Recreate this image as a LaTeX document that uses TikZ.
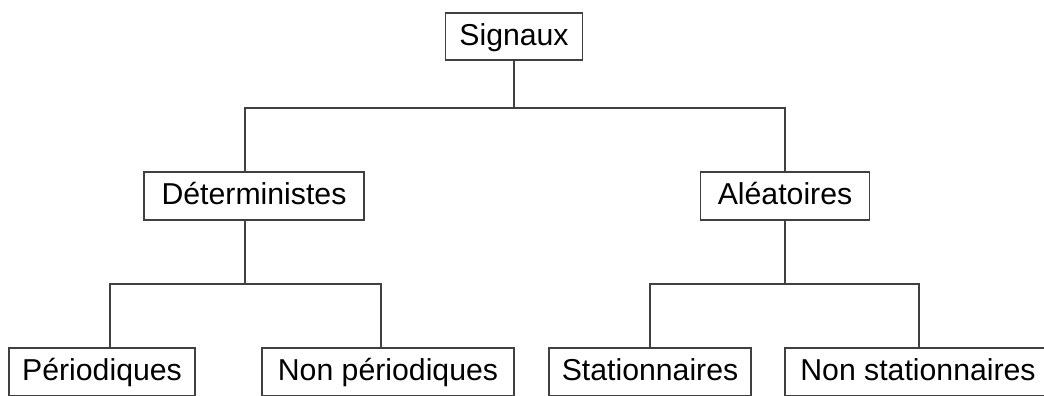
\documentclass[tikz,border=0pt]{standalone}
\usepackage{fontspec}
\setmainfont{Liberation Sans}
\usepackage{tikz}
\usetikzlibrary{calc}

\tikzset{
    sigbox/.style={draw=black!75, line width=0.9pt, inner sep=0pt,
        minimum height=1.2cm, text height=15.5pt, text depth=3pt,
        font=\fontsize{21.5}{25}\selectfont},
    link/.style={draw=black!75, line width=0.9pt}
}

\begin{document}
\begin{tikzpicture}[x=0.025cm, y=-0.025cm]
    \useasboundingbox (0,0) rectangle (1044,395);

    % Root
    \node[sigbox, minimum width=3.425cm, minimum height=1.175cm] (sig) at (514,36.5) {Signaux};

    % First level
    \node[sigbox, minimum width=5.5cm] (det) at (254,196) {Déterministes};
    \node[sigbox, minimum width=4.225cm] (ale) at (785,196) {Aléatoires};

    % Second level
    \node[sigbox, minimum width=4.65cm] (per) at (102,372) {Périodiques};
    \node[sigbox, minimum width=6.3cm] (nper) at (388,372) {Non périodiques};
    \node[sigbox, minimum width=5.05cm] (sta) at (650,372) {Stationnaires};
    \node[sigbox, minimum width=6.65cm] (nsta) at (918,372) {Non stationnaires};

    % Junctions
    \coordinate (jtop) at (514,108);
    \coordinate (jdet) at (245,284);
    \coordinate (jale) at (785,284);

    % Branches from the root
    \draw[link] (sig.south) -- (jtop);
    \draw[link] ($(det.north)+(-9,0)$) |- (jtop) -| (ale.north);

    % Deterministic branch
    \draw[link] ($(det.south)+(-9,0)$) -- (jdet);
    \draw[link] ($(per.north)+(8,0)$) |- (jdet) -| ($(nper.north)+(-7,0)$);

    % Random branch
    \draw[link] (ale.south) -- (jale);
    \draw[link] (sta.north) |- (jale) -| ($(nsta.north)+(1,0)$);
\end{tikzpicture}
\end{document}
